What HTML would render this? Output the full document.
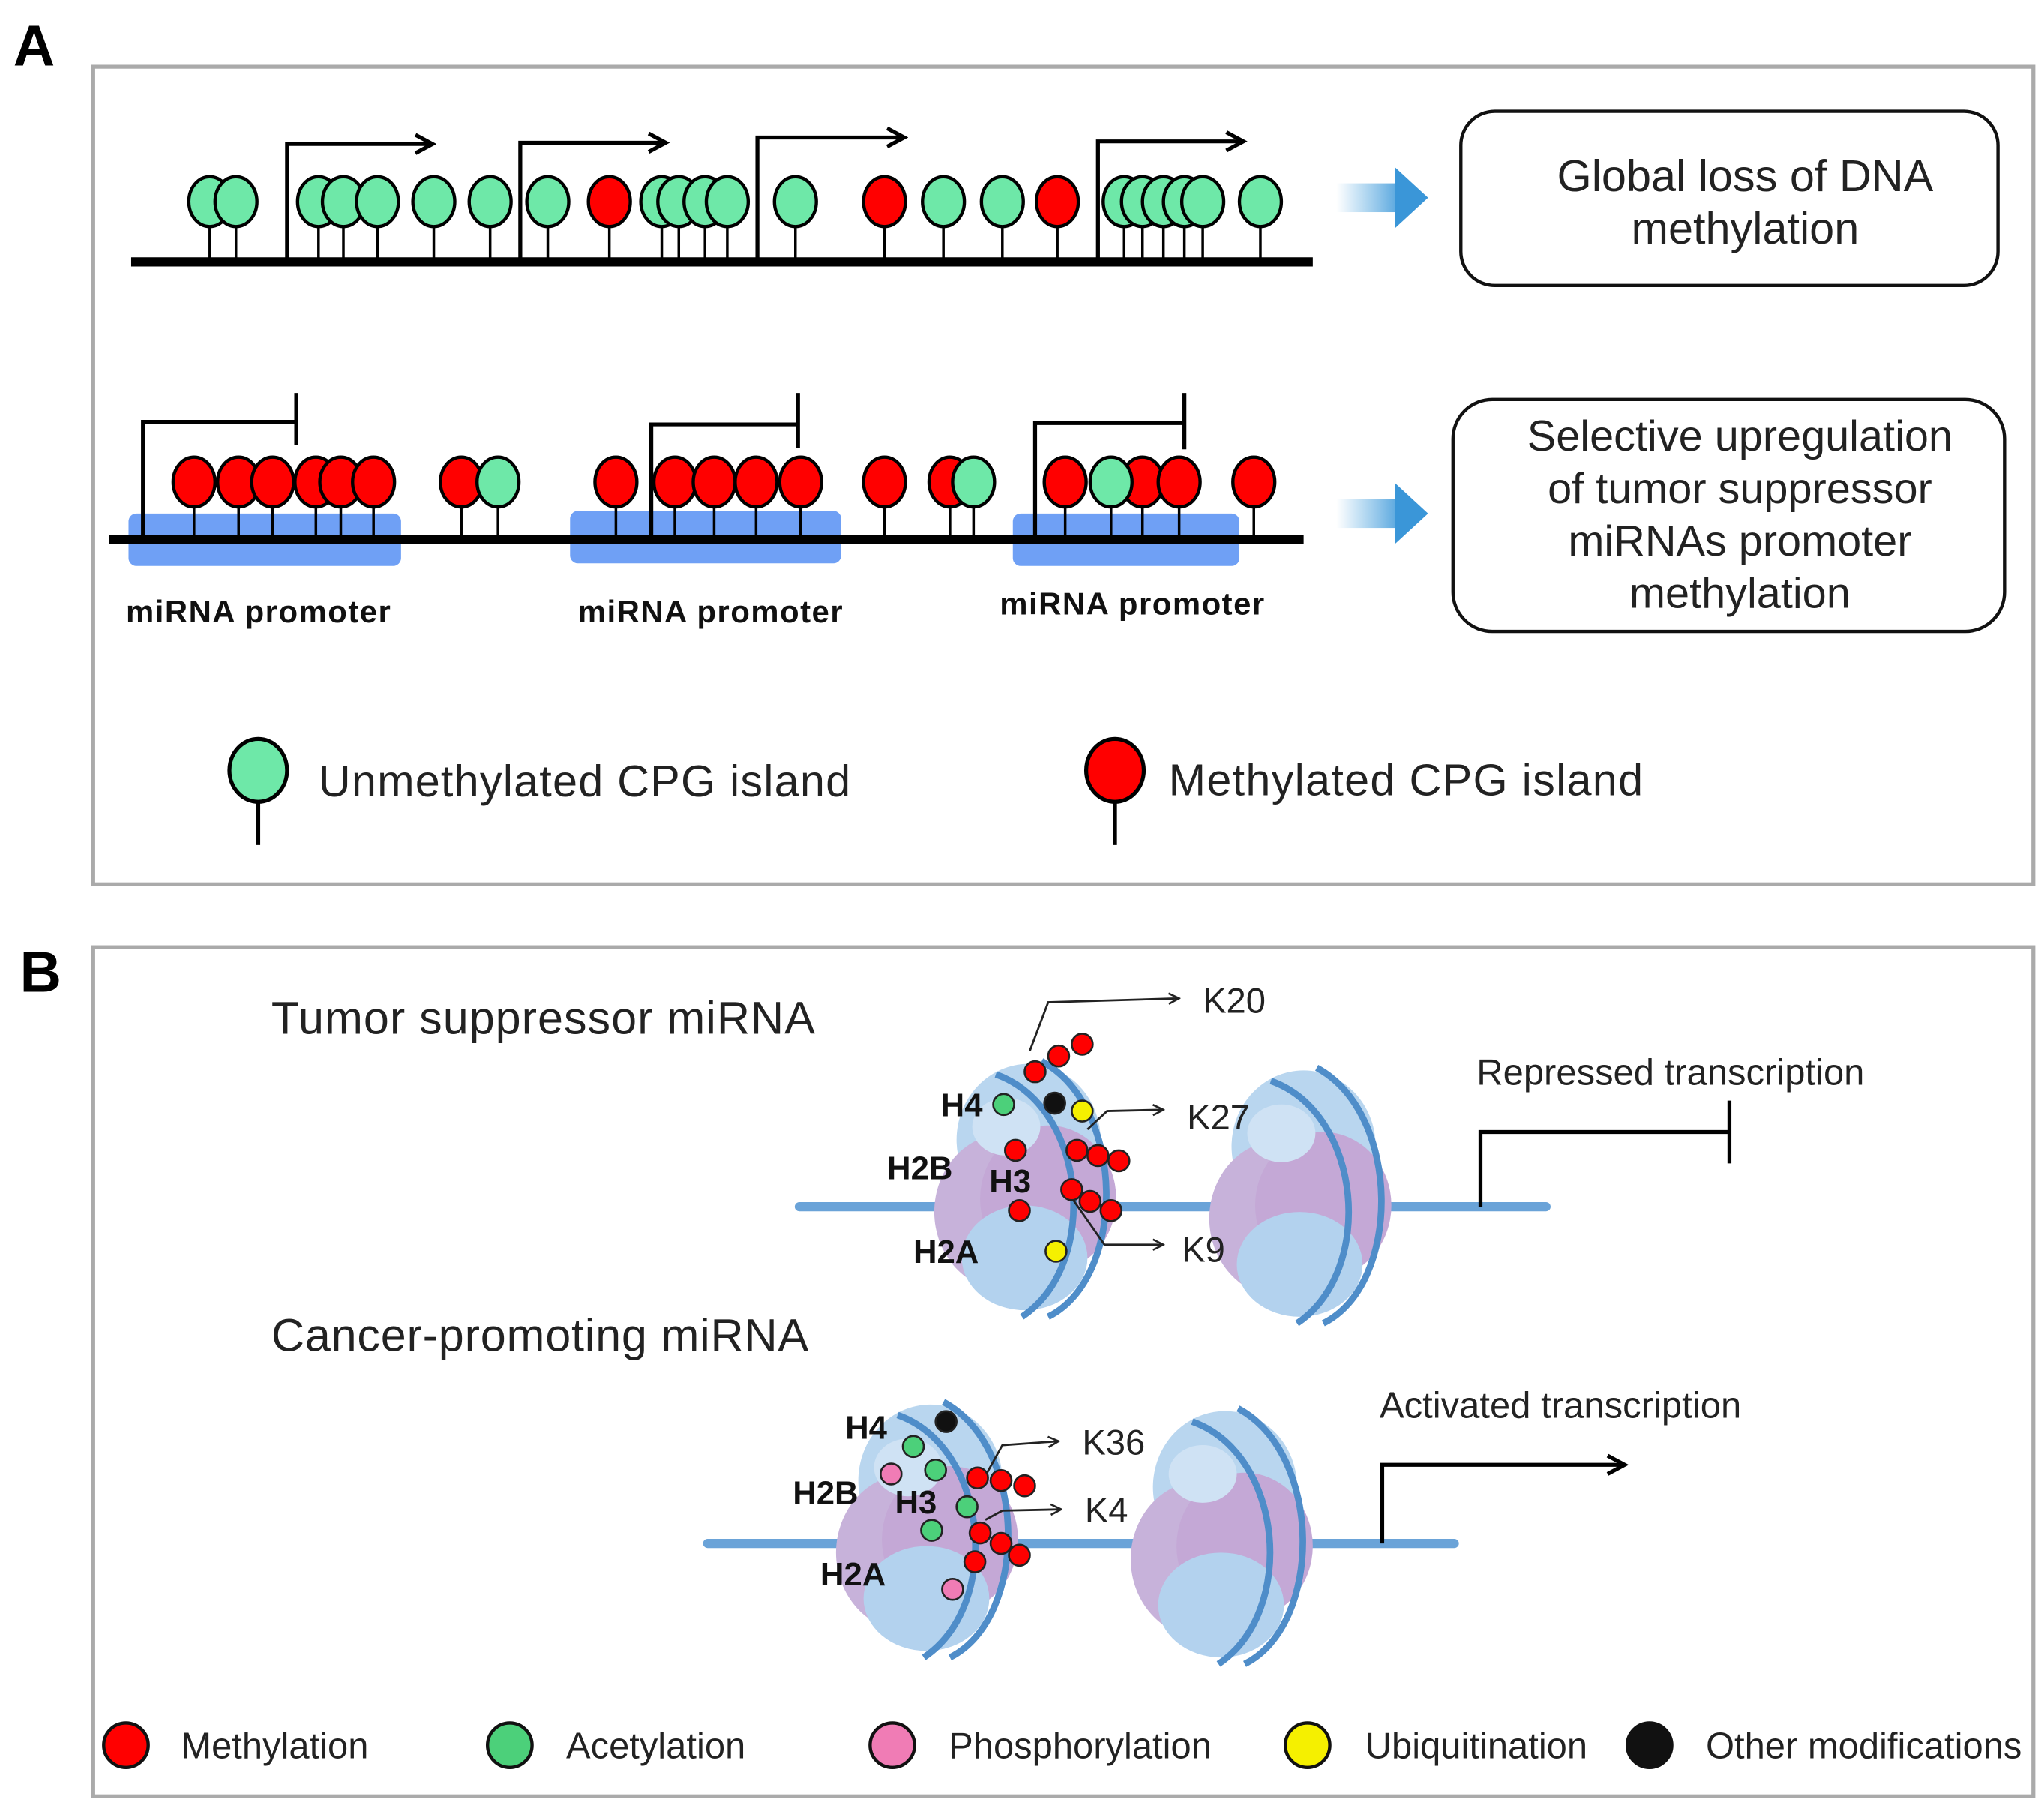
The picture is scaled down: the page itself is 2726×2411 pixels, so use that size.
<!DOCTYPE html>
<html><head><meta charset="utf-8"><style>
html,body{margin:0;padding:0;background:#fff;}
svg{display:block;}
text{font-family:"Liberation Sans",Arial,sans-serif;}
</style></head><body>
<svg width="2726" height="2411" viewBox="0 0 1560 1380" xmlns="http://www.w3.org/2000/svg">
<defs>
<linearGradient id="ba" x1="0" x2="1"><stop offset="0" stop-color="#4aa3df" stop-opacity="0"/><stop offset="1" stop-color="#3a96d8"/></linearGradient>
<g id="nuc">
 <ellipse cx="-5" cy="-35" rx="55" ry="58" fill="#b9d6ef"/>
 <ellipse cx="-22" cy="20" rx="55" ry="60" fill="#c7b2da"/>
 <ellipse cx="10" cy="10" rx="52" ry="56" fill="#c4a8d6"/>
 <ellipse cx="-8" cy="55" rx="48" ry="40" fill="#b3d2ee"/>
 <ellipse cx="-22" cy="-45" rx="26" ry="22" fill="#cfe2f4"/>
 <path d="M-30,-85 C40,-60 50,60 -10,100" fill="none" stroke="#4f8dc9" stroke-width="5"/>
 <path d="M5,-95 C70,-60 70,70 10,100" fill="none" stroke="#4f8dc9" stroke-width="5"/>
</g>
<marker id="ah" markerWidth="10" markerHeight="10" refX="9" refY="5" orient="auto" markerUnits="userSpaceOnUse"><path d="M1,1 L9,5 L1,9" fill="none" stroke="#222" stroke-width="1.5"/></marker>
<marker id="ahb" markerWidth="18" markerHeight="18" refX="15" refY="9" orient="auto" markerUnits="userSpaceOnUse"><path d="M2,2 L15,9 L2,16" fill="none" stroke="#000" stroke-width="3"/></marker>
</defs>

<text x="10" y="50" font-size="44" font-weight="bold">A</text>
<rect x="71" y="51" width="1481" height="624" fill="none" stroke="#aaa" stroke-width="3"/>

<line x1="100" y1="200" x2="1002" y2="200" stroke="#000" stroke-width="7"/>
<g stroke="#000" stroke-width="2">
<path d="M160,170V200M180,170V200M243,170V200M262,170V200M288,170V200M331,170V200M374,170V200M418,170V200M465,170V200M505,170V200M518,170V200M538,170V200M555,170V200M607,170V200M675,170V200M720,170V200M765,170V200M807,170V200M858,170V200M872,170V200M888,170V200M904,170V200M918,170V200M962,170V200"/>
</g>
<g stroke="#000" stroke-width="2.5" fill="#6ee8a8">
<ellipse cx="160" cy="154" rx="16" ry="19"/><ellipse cx="180" cy="154" rx="16" ry="19"/>
<ellipse cx="243" cy="154" rx="16" ry="19"/><ellipse cx="262" cy="154" rx="16" ry="19"/><ellipse cx="288" cy="154" rx="16" ry="19"/>
<ellipse cx="331" cy="154" rx="16" ry="19"/><ellipse cx="374" cy="154" rx="16" ry="19"/><ellipse cx="418" cy="154" rx="16" ry="19"/>
<ellipse cx="465" cy="154" rx="16" ry="19" fill="#f00"/>
<ellipse cx="505" cy="154" rx="16" ry="19"/><ellipse cx="518" cy="154" rx="16" ry="19"/><ellipse cx="538" cy="154" rx="16" ry="19"/><ellipse cx="555" cy="154" rx="16" ry="19"/>
<ellipse cx="607" cy="154" rx="16" ry="19"/>
<ellipse cx="675" cy="154" rx="16" ry="19" fill="#f00"/>
<ellipse cx="720" cy="154" rx="16" ry="19"/><ellipse cx="765" cy="154" rx="16" ry="19"/>
<ellipse cx="807" cy="154" rx="16" ry="19" fill="#f00"/>
<ellipse cx="858" cy="154" rx="16" ry="19"/><ellipse cx="872" cy="154" rx="16" ry="19"/><ellipse cx="888" cy="154" rx="16" ry="19"/><ellipse cx="904" cy="154" rx="16" ry="19"/><ellipse cx="918" cy="154" rx="16" ry="19"/><ellipse cx="962" cy="154" rx="16" ry="19"/>
</g>
<g stroke="#000" stroke-width="3" fill="none" marker-end="url(#ahb)">
<path d="M219,200V110H330"/><path d="M397,200V109H508"/><path d="M578,200V105H690"/><path d="M838,200V108H949"/>
</g>

<rect x="1020" y="140" width="55" height="22" fill="url(#ba)"/><path d="M1065,128 L1090,151 L1065,174Z" fill="#3a96d8"/>
<rect x="1020" y="381" width="55" height="22" fill="url(#ba)"/><path d="M1065,369 L1090,392 L1065,415Z" fill="#3a96d8"/>

<rect x="1115" y="85" width="410" height="133" rx="26" fill="#fff" stroke="#111" stroke-width="2.5"/>
<text x="1332" y="146" font-size="34" text-anchor="middle" fill="#222">Global loss of DNA</text>
<text x="1332" y="186" font-size="34" text-anchor="middle" fill="#222">methylation</text>
<rect x="1109" y="305" width="421" height="177" rx="30" fill="#fff" stroke="#111" stroke-width="2.5"/>
<text x="1328" y="344" font-size="33" text-anchor="middle" fill="#222">Selective upregulation</text>
<text x="1328" y="384" font-size="33" text-anchor="middle" fill="#222">of tumor suppressor</text>
<text x="1328" y="424" font-size="33" text-anchor="middle" fill="#222">miRNAs promoter</text>
<text x="1328" y="464" font-size="33" text-anchor="middle" fill="#222">methylation</text>

<rect x="98" y="392" width="208" height="40" rx="6" fill="#6fa0f5"/>
<rect x="435" y="390" width="207" height="40" rx="6" fill="#6fa0f5"/>
<rect x="773" y="392" width="173" height="40" rx="6" fill="#6fa0f5"/>
<line x1="83" y1="412" x2="995" y2="412" stroke="#000" stroke-width="7"/>
<path stroke="#000" stroke-width="2" d="M148,385V412M182,385V412M208,385V412M241,385V412M260,385V412M285,385V412M352,385V412M380,385V412M470,385V412M515,385V412M545,385V412M577,385V412M611,385V412M675,385V412M725,385V412M743,385V412M813,385V412M848,385V412M872,385V412M900,385V412M957,385V412"/>
<g stroke="#000" stroke-width="2.5" fill="#f00">
<ellipse cx="148" cy="368" rx="16" ry="19"/><ellipse cx="182" cy="368" rx="16" ry="19"/><ellipse cx="208" cy="368" rx="16" ry="19"/><ellipse cx="241" cy="368" rx="16" ry="19"/><ellipse cx="260" cy="368" rx="16" ry="19"/><ellipse cx="285" cy="368" rx="16" ry="19"/>
<ellipse cx="352" cy="368" rx="16" ry="19"/><ellipse cx="380" cy="368" rx="16" ry="19" fill="#6ee8a8"/>
<ellipse cx="470" cy="368" rx="16" ry="19"/><ellipse cx="515" cy="368" rx="16" ry="19"/><ellipse cx="545" cy="368" rx="16" ry="19"/><ellipse cx="577" cy="368" rx="16" ry="19"/><ellipse cx="611" cy="368" rx="16" ry="19"/>
<ellipse cx="675" cy="368" rx="16" ry="19"/><ellipse cx="725" cy="368" rx="16" ry="19"/><ellipse cx="743" cy="368" rx="16" ry="19" fill="#6ee8a8"/>
<ellipse cx="813" cy="368" rx="16" ry="19"/><ellipse cx="872" cy="368" rx="16" ry="19"/><ellipse cx="848" cy="368" rx="16" ry="19" fill="#6ee8a8"/><ellipse cx="900" cy="368" rx="16" ry="19"/><ellipse cx="957" cy="368" rx="16" ry="19"/>
</g>
<g stroke="#000" stroke-width="3" fill="none">
<path d="M109,412V322H226M226,300V340"/>
<path d="M497,412V324H609M609,300V342"/>
<path d="M790,412V323H904M904,300V343"/>
</g>
<text x="96" y="475" font-size="24" font-weight="bold" fill="#111" textLength="202">miRNA promoter</text>
<text x="441" y="475" font-size="24" font-weight="bold" fill="#111" textLength="202">miRNA promoter</text>
<text x="763" y="469" font-size="24" font-weight="bold" fill="#111" textLength="202">miRNA promoter</text>

<line x1="197" y1="600" x2="197" y2="645" stroke="#000" stroke-width="3"/>
<ellipse cx="197" cy="588" rx="22" ry="24" fill="#6ee8a8" stroke="#000" stroke-width="3"/>
<text x="243" y="608" font-size="34" fill="#222" textLength="406">Unmethylated CPG island</text>
<line x1="851" y1="600" x2="851" y2="645" stroke="#000" stroke-width="3"/>
<ellipse cx="851" cy="588" rx="22" ry="24" fill="#f00" stroke="#000" stroke-width="3"/>
<text x="892" y="607" font-size="34" fill="#222" textLength="362">Methylated CPG island</text>

<text x="15" y="757" font-size="44" font-weight="bold">B</text>
<rect x="71" y="723" width="1481" height="648" fill="none" stroke="#aaa" stroke-width="3"/>
<text x="207" y="789" font-size="35" fill="#222" textLength="415">Tumor suppressor miRNA</text>
<text x="207" y="1031" font-size="35" fill="#222" textLength="410">Cancer-promoting miRNA</text>

<line x1="610" y1="921" x2="1180" y2="921" stroke="#6aa3d8" stroke-width="7" stroke-linecap="round"/>
<use href="#nuc" transform="translate(790,905)"/>
<use href="#nuc" transform="translate(1000,910)"/>
<line x1="540" y1="1178" x2="1110" y2="1178" stroke="#6aa3d8" stroke-width="7" stroke-linecap="round"/>
<use href="#nuc" transform="translate(715,1165)"/>
<use href="#nuc" transform="translate(940,1170)"/>

<path d="M1130,921V864H1320M1320,840V888" stroke="#000" stroke-width="3" fill="none"/>
<text x="1127" y="828" font-size="28" fill="#222" textLength="296">Repressed transcription</text>
<path d="M1055,1178V1118H1240" stroke="#000" stroke-width="3" fill="none" marker-end="url(#ahb)"/>
<text x="1053" y="1082" font-size="28" fill="#222" textLength="276">Activated transcription</text>

<g font-size="25" font-weight="bold" fill="#111">
<text x="718" y="852">H4</text><text x="677" y="900">H2B</text><text x="755" y="910">H3</text><text x="697" y="964">H2A</text>
<text x="645" y="1098">H4</text><text x="605" y="1148">H2B</text><text x="683" y="1155">H3</text><text x="626" y="1210">H2A</text>
</g>
<g stroke="#222" stroke-width="1.6" fill="none" marker-end="url(#ah)">
<path d="M786,802L800,765L900,762"/><path d="M830,862L845,848L888,847"/><path d="M815,910L843,950L888,950"/>
<path d="M750,1130L765,1103L808,1100"/><path d="M752,1160L765,1153L810,1152"/>
</g>
<g font-size="27" fill="#222">
<text x="918" y="773">K20</text><text x="906" y="862">K27</text><text x="902" y="963">K9</text>
<text x="826" y="1110">K36</text><text x="828" y="1162">K4</text>
</g>
<g stroke="#222" stroke-width="1.5">
<g fill="#f00"><circle cx="790" cy="818" r="8"/><circle cx="808" cy="806" r="8"/><circle cx="826" cy="797" r="8"/>
<circle cx="775" cy="878" r="8"/><circle cx="778" cy="924" r="8"/>
<circle cx="822" cy="878" r="8"/><circle cx="838" cy="882" r="8"/><circle cx="854" cy="886" r="8"/>
<circle cx="818" cy="908" r="8"/><circle cx="832" cy="917" r="8"/><circle cx="848" cy="924" r="8"/>
<circle cx="746" cy="1128" r="8"/><circle cx="764" cy="1130" r="8"/><circle cx="782" cy="1134" r="8"/>
<circle cx="748" cy="1170" r="8"/><circle cx="764" cy="1178" r="8"/><circle cx="778" cy="1187" r="8"/><circle cx="744" cy="1192" r="8"/></g>
<g fill="#4cd07a"><circle cx="766" cy="843" r="8"/><circle cx="697" cy="1104" r="8"/><circle cx="714" cy="1122" r="8"/><circle cx="738" cy="1150" r="8"/><circle cx="711" cy="1168" r="8"/></g>
<g fill="#111"><circle cx="805" cy="842" r="8"/><circle cx="722" cy="1085" r="8"/></g>
<g fill="#f5f000"><circle cx="826" cy="848" r="8"/><circle cx="806" cy="955" r="8"/></g>
<g fill="#f07cb5"><circle cx="680" cy="1125" r="8"/><circle cx="727" cy="1213" r="8"/></g>
</g>

<g stroke="#111" stroke-width="2.5">
<circle cx="96" cy="1332" r="17" fill="#f00"/><circle cx="389" cy="1332" r="17" fill="#4cd07a"/><circle cx="681" cy="1332" r="17" fill="#f07cb5"/><circle cx="998" cy="1332" r="17" fill="#f5f000"/><circle cx="1259" cy="1332" r="17" fill="#111"/>
</g>
<g font-size="28" fill="#222">
<text x="138" y="1342">Methylation</text><text x="432" y="1342">Acetylation</text><text x="724" y="1342">Phosphorylation</text><text x="1042" y="1342">Ubiquitination</text><text x="1302" y="1342">Other modifications</text>
</g>
</svg>
</body></html>
